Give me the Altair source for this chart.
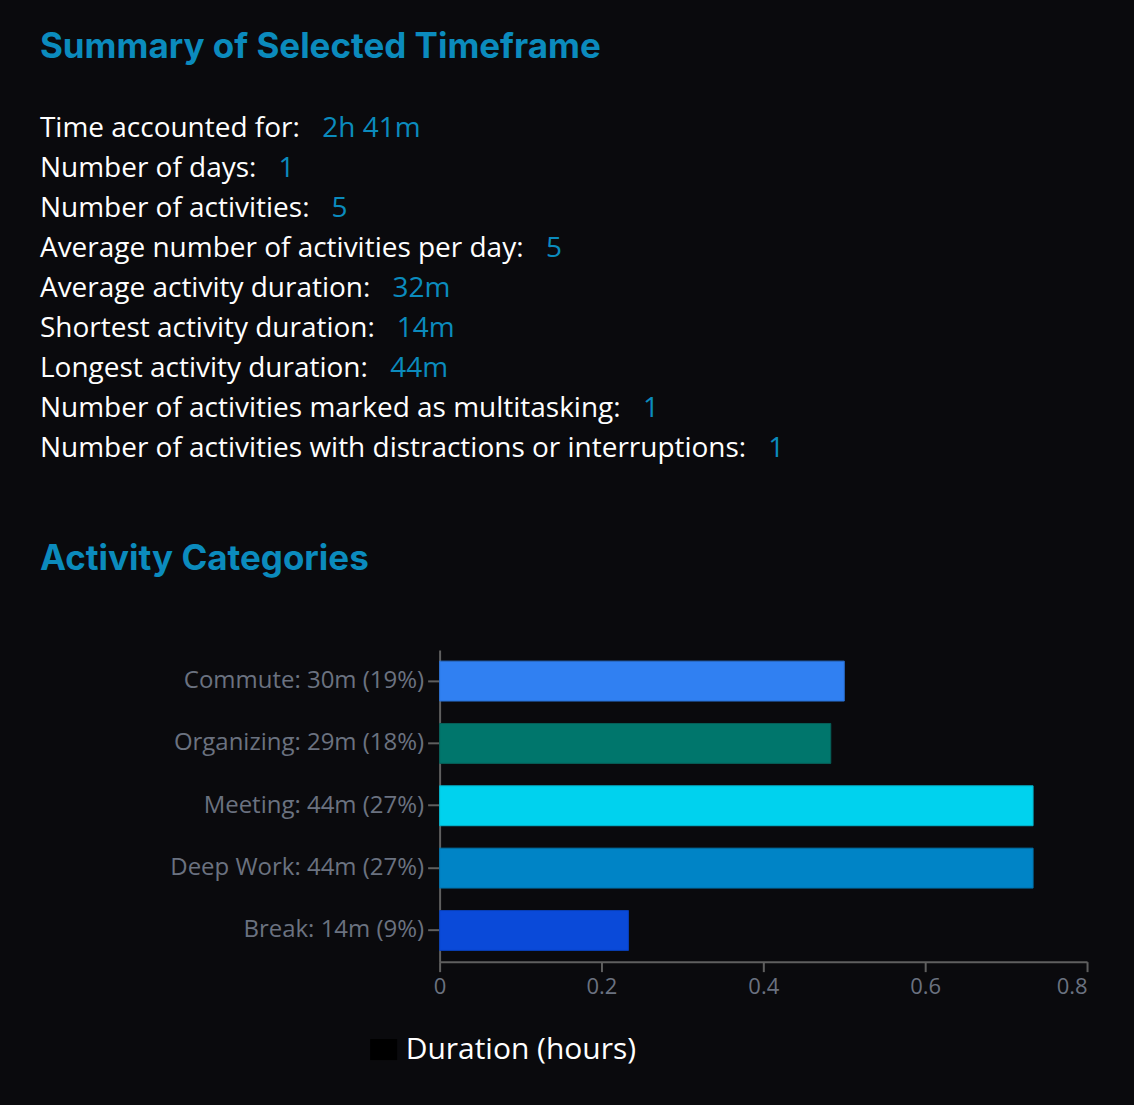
import altair as alt
import pandas as pd

# ---------------- data ----------------
summary_labels = [
    "Time accounted for:",
    "Number of days:",
    "Number of activities:",
    "Average number of activities per day:",
    "Average activity duration:",
    "Shortest activity duration:",
    "Longest activity duration:",
    "Number of activities marked as multitasking:",
    "Number of activities with distractions or interruptions:",
]
summary_values = ["2h 41m", "1", "5", "5", "32m", "14m", "44m", "1", "1"]

categories = ["Commute", "Organizing", "Meeting", "Deep Work", "Break"]
minutes = [30, 29, 44, 44, 14]
percents = [19, 18, 27, 27, 9]
series_name = "Duration (hours)"
x_ticks = [0, 0.2, 0.4, 0.6, 0.8]

bar_colors = ["#3080f2", "#00766c", "#00d2ee", "#0084c6", "#0a4ad9"]
bar_strokes = ["#2a6fd0", "#075f58", "#05b4cc", "#0272aa", "#093fb8"]

# ---------------- style ----------------
BG = "#0a0a0d"
ACCENT = "#0b8bbd"
GREY = "#6b7280"
AXIS = "#5f5f5f"
BODY_FONT = "Open Sans"
HEAD_FONT = "Inter"
BODY_SIZE = 28
HEAD_SIZE = 35
LEFT = -400  # text column start, relative to the plot origin of the bar panel

# Open Sans advance widths (units per 2048 em), used to place the coloured
# value right after each white label
ADV = {
    " ": 532, ":": 545, "T": 1149, "N": 1520, "A": 1296, "S": 1124, "L": 1096,
    "a": 1139, "b": 1255, "c": 975, "d": 1255, "e": 1149, "f": 694, "g": 1122,
    "h": 1257, "i": 518, "j": 518, "k": 1075, "l": 518, "m": 1905, "n": 1257,
    "o": 1237, "p": 1255, "q": 1255, "r": 836, "s": 977, "t": 723, "u": 1257,
    "v": 1026, "w": 1593, "x": 1073, "y": 1028, "z": 1000,
}


def text_width(s, size):
    return sum(ADV.get(ch, 1150) for ch in s) / 2048 * size


summary_df = pd.DataFrame({
    "row": list(range(len(summary_labels))),
    "label": summary_labels,
    "value": summary_values,
    "label_x": [LEFT] * len(summary_labels),
    "value_x": [LEFT + text_width(l, BODY_SIZE) + 22 for l in summary_labels],
})

labels = [f"{c}: {m}m ({p}%)" for c, m, p in zip(categories, minutes, percents)]
cat_df = pd.DataFrame({
    "label": labels,
    "hours": [m / 60 for m in minutes],
    "series": [series_name] * len(labels),
})

# ---------------- summary panel ----------------
y_rows = alt.Y("row:O", axis=None, scale=alt.Scale(type="point", padding=0.5))
base_text = alt.Chart(summary_df).encode(y=y_rows)
label_text = base_text.mark_text(
    align="left", baseline="middle", font=BODY_FONT, fontSize=BODY_SIZE, color="white"
).encode(x=alt.X("label_x:Q", scale=None), text="label:N")
value_text = base_text.mark_text(
    align="left", baseline="middle", font=BODY_FONT, fontSize=BODY_SIZE, color=ACCENT
).encode(x=alt.X("value_x:Q", scale=None), text="value:N")

summary = alt.layer(label_text, value_text).properties(
    width=648,
    height=360,
    title=alt.TitleParams(
        "Summary of Selected Timeframe",
        anchor="start", frame="group", font=HEAD_FONT, fontSize=HEAD_SIZE,
        fontWeight="bold", color=ACCENT, baseline="alphabetic", offset=16, dx=LEFT,
    ),
)

# ---------------- bar panel ----------------
y_enc = alt.Y(
    "label:N", sort=labels, title=None,
    scale=alt.Scale(paddingInner=0.36, paddingOuter=0.18),
    axis=alt.Axis(
        labelFont=BODY_FONT, labelFontSize=24, labelColor=GREY, labelPadding=4,
        labelLimit=0, tickSize=12, tickColor=AXIS, domainColor=AXIS,
        domainWidth=2, tickWidth=2,
    ),
)
x_enc = alt.X(
    "hours:Q", title=None,
    scale=alt.Scale(domain=[0, 0.8], nice=False),
    axis=alt.Axis(
        values=x_ticks, format="~g", grid=False, labelFlush=False,
        labelAlign=alt.condition("datum.value >= 0.8", alt.value("right"), alt.value("center")),
        labelFont=BODY_FONT, labelFontSize=22, labelColor=GREY, labelPadding=5,
        tickSize=10, tickColor=AXIS, domainColor=AXIS, domainWidth=2, tickWidth=2,
    ),
)

bars = alt.Chart(cat_df).mark_bar(strokeWidth=1).encode(
    x=x_enc,
    y=y_enc,
    fill=alt.Fill("label:N", scale=alt.Scale(domain=labels, range=bar_colors), legend=None),
    stroke=alt.Stroke("label:N", scale=alt.Scale(domain=labels, range=bar_strokes), legend=None),
)

legend_layer = alt.Chart(cat_df).mark_point(filled=True, opacity=0, color="black").encode(
    x=alt.X("hours:Q"),
    y=alt.Y("label:N", sort=labels),
    shape=alt.Shape(
        "series:N",
        scale=alt.Scale(range=["M-1,-0.78H1V0.78H-1Z"]),
        legend=alt.Legend(
            title=None, orient="none", legendX=-71, legendY=385,
            symbolFillColor="black", symbolStrokeColor="black", symbolStrokeWidth=0,
            symbolOpacity=1, symbolSize=729, labelFont=BODY_FONT, labelFontSize=30,
            labelColor="white", labelOffset=7, labelLimit=0, padding=0,
        ),
    ),
)

bar_panel = alt.layer(bars, legend_layer).properties(
    width=648,
    height=312,
    title=alt.TitleParams(
        "Activity Categories",
        anchor="start", frame="group", font=HEAD_FONT, fontSize=HEAD_SIZE,
        fontWeight="bold", color=ACCENT, baseline="alphabetic", offset=45, dx=LEFT,
    ),
)

chart = alt.vconcat(summary, bar_panel, spacing=73).resolve_legend(
    shape="independent"
).properties(
    background=BG,
    padding={"left": 40, "top": 30, "right": 46, "bottom": 40},
).configure_view(stroke=None)

chart.save("out.html", embed_options={"renderer": "svg", "actions": False})
